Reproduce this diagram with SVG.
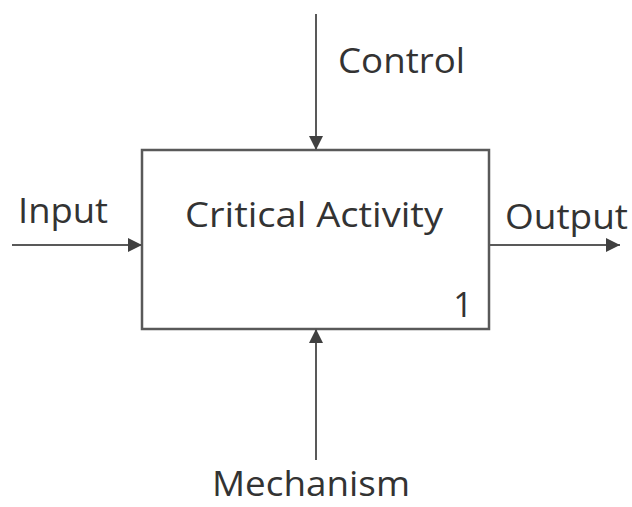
<svg xmlns="http://www.w3.org/2000/svg" width="632" height="507" viewBox="0 0 632 507">
<style>
text{font-family:"Open Sans","Liberation Sans",sans-serif;fill:#333;font-size:34px}
.ln{stroke:#595959;stroke-width:2;fill:none}
</style>
<defs>
<marker id="ah" viewBox="0 0 10 10" refX="10" refY="5" markerWidth="14" markerHeight="14" markerUnits="userSpaceOnUse" orient="auto"><path d="M0,0L10,5L0,10z" fill="#404040"/></marker>
</defs>
<rect width="632" height="507" fill="#fff"/>
<g id="activity">
<rect x="142" y="150" width="347" height="179" fill="#fff" stroke="#595959" stroke-width="2.5"/>
<text x="314" y="227" text-anchor="middle" textLength="258" lengthAdjust="spacingAndGlyphs">Critical Activity</text>
<text x="463" y="317" text-anchor="middle">1</text>
</g>
<g id="connectors">
<line class="ln" x1="316" y1="14" x2="316" y2="150" marker-end="url(#ah)"/>
<line class="ln" x1="12" y1="245" x2="142" y2="245" marker-end="url(#ah)"/>
<line class="ln" x1="489" y1="245" x2="620" y2="245" marker-end="url(#ah)"/>
<line class="ln" x1="316" y1="460" x2="316" y2="329" marker-end="url(#ah)"/>
</g>
<g id="labels">
<text x="338" y="73" textLength="127" lengthAdjust="spacingAndGlyphs">Control</text>
<text x="18" y="223" textLength="90" lengthAdjust="spacingAndGlyphs">Input</text>
<text x="505" y="229" textLength="123" lengthAdjust="spacingAndGlyphs">Output</text>
<text x="212" y="496" font-size="32" textLength="198" lengthAdjust="spacingAndGlyphs">Mechanism</text>
</g>
</svg>
